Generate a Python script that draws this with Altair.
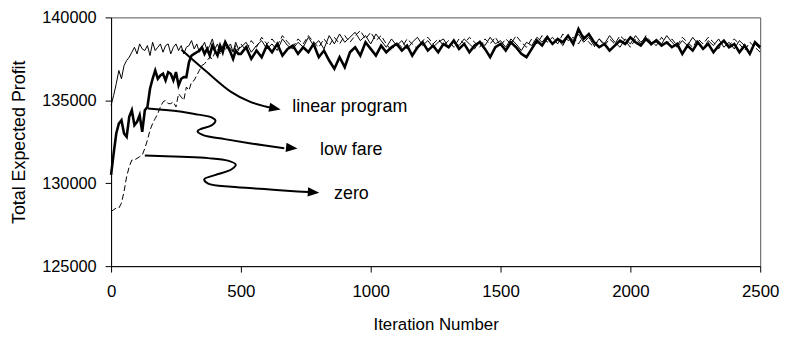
import altair as alt
import pandas as pd

# ---------------- data ----------------
ITER_EARLY = list(range(0, 500, 10))
ITER_LATE = list(range(500, 2501, 20))

LP_EARLY = [134700, 135300, 136000, 136800, 136300, 137100, 137400, 137600, 137900, 138200,
            137800, 138400, 138100, 138000, 138300, 137700, 138500, 138000, 138200, 138400,
            137900, 138300, 138400, 137800, 138200, 138400, 138000, 138300, 137800, 138200,
            138300, 138600, 138100, 138400, 137900, 138200, 138500, 138000, 138300, 138700,
            138100, 138400, 137900, 138300, 138600, 138200, 138400, 137900, 138500, 138100]
LP_LATE = [138200, 138500, 137900, 138300, 138600, 138100, 138400, 138000, 138700, 138300,
           138100, 138500, 138200, 138800, 138300, 138600, 138100, 138900, 138400, 139000,
           138500, 138800, 139100, 138600, 138900, 138400, 139000, 138600, 138200, 138700,
           138300, 138600, 138100, 138500, 138800, 138300, 138600, 138200, 138500, 138700,
           138200, 138500, 138300, 138700, 138400, 138100, 138600, 138300, 138800, 138400,
           138600, 138200, 138700, 138400, 138000, 138500, 138300, 138800, 138500, 138900,
           138400, 138700, 138300, 138900, 138600, 139000, 138500, 138800, 138300, 138700,
           138400, 138900, 138500, 138200, 138700, 138400, 138900, 138500, 138800, 138300,
           138700, 138400, 138900, 138500, 138200, 138600, 138300, 138800, 138400, 138100,
           138600, 138300, 138700, 138200, 138500, 138100, 138600, 138300, 137900, 138400,
           138100]

LF_EARLY = [130500, 131800, 133000, 133600, 133800, 133000, 132800, 134000, 134400, 133500,
            133700, 134100, 133100, 134400, 134600, 135700, 136300, 136800, 136300, 136500,
            136600, 136200, 136700, 136600, 136200, 136700, 135900, 136300, 136400, 136400,
            137300, 137700, 137800, 137900, 138000, 138200, 137800, 138100, 137700, 138300,
            138000, 137700, 138300, 137900, 138500, 138200, 137900, 137500, 138000, 137800]
LF_LATE = [137800, 138200, 137500, 138000, 137600, 138300, 137900, 138400, 137700, 138100,
           138300, 137800, 138200, 137900, 138400, 137600, 138000, 137400, 136900, 137600,
           137000, 137900, 138200, 137700, 138500, 138100, 137700, 138300, 137900, 138200,
           138400, 138000, 138300, 137700, 138200, 138500, 138000, 138300, 137900, 138400,
           138200, 138600, 138100, 138400, 137900, 138300, 138500, 138100, 137600, 138200,
           138400, 138000, 138500, 138200, 137800, 137600, 138100, 138600, 138300, 138800,
           138400, 138700, 138500, 138900, 138400, 139300, 138700, 139000, 138500, 138200,
           138400, 138000, 138300, 138600, 138400, 138800, 138500, 138300, 138700, 138400,
           138600, 138300, 138500, 138200, 138400, 137800, 138300, 138000, 138500, 138100,
           138400, 137900, 138300, 138600, 138200, 138400, 137900, 138300, 137800, 138500,
           138200]

ZR_EARLY = [128300, 128400, 128500, 128500, 128800, 129500, 130400, 131000, 131400, 131400,
            131500, 131600, 131700, 132100, 132600, 133200, 133600, 133900, 134200, 134600,
            134900, 135000, 134800, 134800, 134900, 134600, 135400, 135200, 135000, 135800,
            135600, 136100, 136200, 136500, 136800, 137100, 137200, 137400, 137600, 137500,
            137900, 138100, 137800, 138200, 138000, 138400, 138100, 137900, 138300, 138000]
ZR_LATE = [138400, 138000, 138600, 138200, 138800, 138400, 138700, 138300, 138900, 138500,
           138200, 138700, 138400, 138900, 138500, 138200, 138700, 138300, 138800, 138400,
           138900, 138500, 138900, 139200, 138700, 139100, 138600, 138900, 138400, 138000,
           138500, 138200, 138700, 138400, 138100, 138600, 138800, 138400, 138700, 138300,
           138600, 138200, 138700, 138400, 138800, 138500, 138200, 138700, 138400, 138800,
           138300, 138700, 138400, 138900, 138500, 138200, 138700, 138400, 138900, 138500,
           138800, 138400, 139000, 138600, 138800, 138400, 138900, 138500, 138200, 138700,
           138300, 138700, 138400, 138900, 138600, 138200, 138700, 138400, 138900, 138500,
           138300, 138800, 138400, 138700, 138300, 138800, 138500, 138200, 138700, 138400,
           138800, 138500, 138100, 138600, 138300, 138700, 138400, 138000, 138500, 138200,
           137900]

# annotation arrows (iteration, profit)
ARROW_LP_X = [271, 366, 462, 534, 595, 622]
ARROW_LP_Y = [138051, 136752, 135512, 134921, 134626, 134537]
ARROW_LF_X = [142, 272, 336, 387, 402, 387, 348, 333, 355, 438, 539, 667]
ARROW_LF_Y = [134508, 134313, 134136, 133976, 133782, 133486, 133285, 133132, 132896, 132659, 132400, 132104]
ARROW_ZR_X = [130, 272, 374, 450, 480, 463, 400, 359, 374, 463, 590, 718, 760]
ARROW_ZR_Y = [131673, 131597, 131514, 131360, 131124, 130829, 130492, 130238, 129978, 129783, 129648, 129506, 129470]

HEAD_X = [653, 718, 802]
HEAD_Y = [134449, 132087, 129429]
HEAD_ANGLE = [11, 6, 4]

LABELS = ["linear program", "low fare", "zero"]
LABEL_X = [698, 805, 859]
LABEL_Y = [134567, 132028, 129370]

X_TICKS = [0, 500, 1000, 1500, 2000, 2500]
Y_TICKS = [125000, 130000, 135000, 140000]

FONT = "Liberation Sans"

# ---------------- tables ----------------
def series_df(early, late):
    return pd.DataFrame({"iteration": ITER_EARLY + ITER_LATE, "profit": early + late})

df_lp = series_df(LP_EARLY, LP_LATE)
df_lf = series_df(LF_EARLY, LF_LATE)
df_zr = series_df(ZR_EARLY, ZR_LATE)

rows = []
for aid, (xs, ys) in enumerate([(ARROW_LP_X, ARROW_LP_Y), (ARROW_LF_X, ARROW_LF_Y), (ARROW_ZR_X, ARROW_ZR_Y)]):
    for i, (xv, yv) in enumerate(zip(xs, ys)):
        rows.append({"arrow": aid, "i": i, "iteration": xv, "profit": yv})
df_arrows = pd.DataFrame(rows)
df_heads = pd.DataFrame({"iteration": HEAD_X, "profit": HEAD_Y, "angle": HEAD_ANGLE})
df_labels = pd.DataFrame({"iteration": LABEL_X, "profit": LABEL_Y, "label": LABELS})

x_enc = alt.X(
    "iteration:Q",
    scale=alt.Scale(domain=[0, 2500], nice=False, zero=False),
    axis=alt.Axis(
        values=X_TICKS, format="d", title="Iteration Number", grid=False, labelFlush=False,
        tickSize=6, labelPadding=12, labelFontSize=17, titleFontSize=17,
        titlePadding=17,
    ),
)
y_enc = alt.Y(
    "profit:Q",
    scale=alt.Scale(domain=[125000, 140000], nice=False, zero=False),
    axis=alt.Axis(
        values=Y_TICKS, format="d", title="Total Expected Profit", grid=False,
        tickSize=6, labelPadding=9, labelFontSize=16.5, titleFontSize=18,
        titlePadding=13,
    ),
)

zero_line = alt.Chart(df_zr).mark_line(color="black", strokeWidth=1, strokeDash=[6, 3]).encode(
    x=x_enc, y=y_enc
)
lp_line = alt.Chart(df_lp).mark_line(color="black", strokeWidth=1).encode(x=x_enc, y=y_enc)
lf_line = alt.Chart(df_lf).mark_line(color="black", strokeWidth=2.6).encode(x=x_enc, y=y_enc)

arrows = alt.Chart(df_arrows).mark_line(
    color="black", strokeWidth=2, interpolate="catmull-rom"
).encode(x="iteration:Q", y="profit:Q", detail="arrow:N", order="i:Q")

heads = alt.Chart(df_heads).mark_point(
    shape="M0,0L-2,-0.8L-2,0.8Z", filled=True, color="black", opacity=1, size=135, strokeWidth=0
).encode(x="iteration:Q", y="profit:Q", angle=alt.Angle("angle:Q", scale=None))

labels = alt.Chart(df_labels).mark_text(
    align="left", baseline="middle", fontSize=18, font=FONT, color="black"
).encode(x="iteration:Q", y="profit:Q", text="label:N")

chart = (
    alt.layer(zero_line, lp_line, lf_line, arrows, heads, labels)
    .properties(
        width=655, height=251,
        autosize=alt.AutoSizeParams(type="none"),
        padding={"left": 104, "top": 8, "right": 22, "bottom": 68},
        background="white",
    )
    .configure_view(stroke="#555555", strokeWidth=1)
    .configure_axis(
        domainColor="black", tickColor="black", labelColor="black", titleColor="black",
        labelFont=FONT, titleFont=FONT, titleFontWeight="normal", domainWidth=1,
    )
)

chart.save("out.html", embed_options={"renderer": "svg", "actions": False})
